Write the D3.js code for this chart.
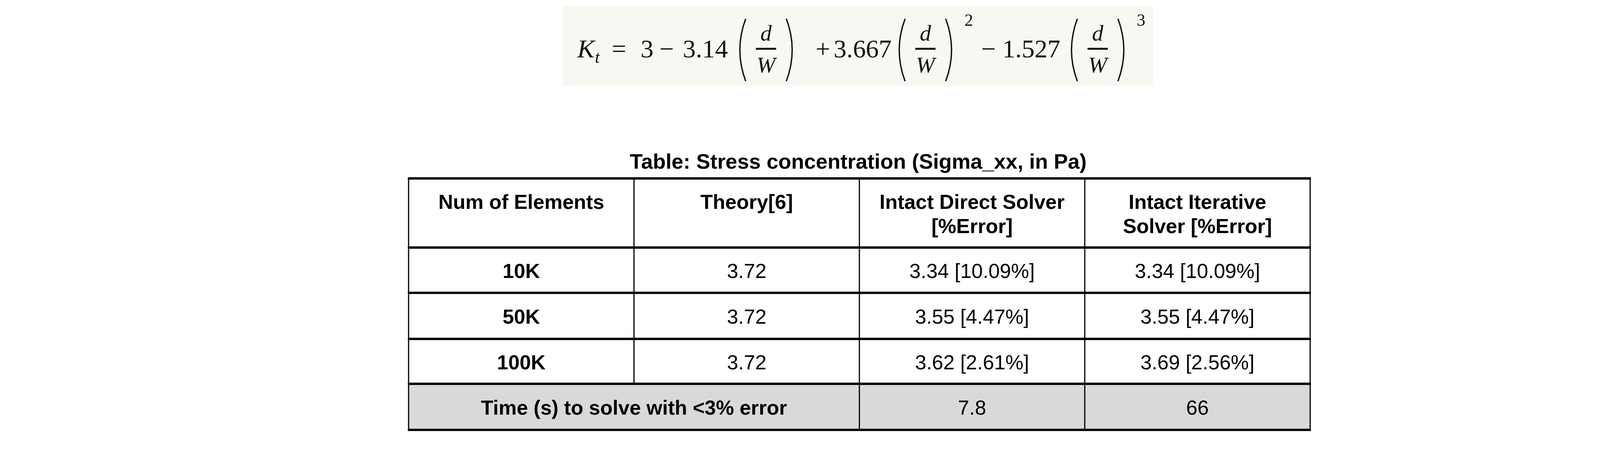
<!DOCTYPE html>
<html><head><meta charset="utf-8">
<script src="https://cdn.jsdelivr.net/npm/d3@7"></script>
<style>body{margin:0;background:#fff}</style></head>
<body><svg id="c" width="4405" height="1150"></svg>
<script>
const title = "Table: Stress concentration (Sigma_xx, in Pa)";
const columns = ["Num of Elements", "Theory[6]", "Intact Direct Solver\n[%Error]", "Intact Iterative\nSolver [%Error]"];
const rowLabels = ["10K", "50K", "100K"];
const theory = ["3.72", "3.72", "3.72"];
const direct = ["3.34 [10.09%]", "3.55 [4.47%]", "3.62 [2.61%]"];
const iterative = ["3.34 [10.09%]", "3.55 [4.47%]", "3.69 [2.56%]"];
const timeLabel = "Time (s) to solve with <3% error";
const timeValues = ["7.8", "66"];
const coeffs = ["3", "3.14", "3.667", "1.527"];

const svg = d3.select("#c");
const font = "'Liberation Sans', Arial, sans-serif";
const serif = "'Liberation Serif', 'DejaVu Serif', serif";

// Formula
svg.append("rect").attr("x",1441).attr("y",15).attr("width",1512).attr("height",205).attr("fill","#f8f8f3");
const f = svg.append("g").attr("font-family",serif).attr("fill","#111");
const base = 147;
function t(x,y,s,size,italic,anchor){ return f.append("text").attr("x",x).attr("y",y).attr("font-size",size)
  .attr("font-style",italic?"italic":"normal").attr("text-anchor",anchor||"start").text(s); }
t(1478,base,"K",66,true); t(1523,base+14,"t",44,true);
t(1566,base,"=",66); t(1640,base,coeffs[0],66); t(1688,base,"−",66); t(1748,base,coeffs[1],66);
function frac(cx,sup){
  f.append("path").attr("d",`M${cx-52},48 Q${cx-82},128 ${cx-52},208`).attr("fill","none").attr("stroke","#111").attr("stroke-width",3.5);
  f.append("path").attr("d",`M${cx+52},48 Q${cx+82},128 ${cx+52},208`).attr("fill","none").attr("stroke","#111").attr("stroke-width",3.5);
  t(cx,104,"d",58,true,"middle");
  f.append("line").attr("x1",cx-26).attr("x2",cx+26).attr("y1",125).attr("y2",125).attr("stroke","#111").attr("stroke-width",5);
  t(cx,186,"W",58,true,"middle");
  if(sup) t(cx+100,66,sup,44);
}
frac(1961,null);
t(2088,base,"+",66); t(2134,base,coeffs[2],66);
frac(2369,"2");
t(2512,base,"−",66); t(2566,base,coeffs[3],66);
frac(2810,"3");

// Title
svg.append("text").attr("x",2197).attr("y",432).attr("text-anchor","middle").attr("font-family",font)
  .attr("font-weight","bold").attr("font-size",54).text(title);

// Table
const x = d3.scaleBand().domain(d3.range(4)).range([1046,3354]);
const rowEdges = [457,634,750,868,983,1101];
const rowsY = d3.scaleOrdinal().domain(d3.range(5)).range(rowEdges.slice(0,5));
const rowH = i => rowEdges[i+1]-rowEdges[i];
const g = svg.append("g").attr("font-family",font).attr("font-size",52).attr("fill","#000");

g.append("rect").attr("x",x(0)).attr("y",rowsY(4)).attr("width",x.range()[1]-x(0)).attr("height",rowH(4)).attr("fill","#d9d9d9");

columns.forEach((c,i)=>{
  const lines = c.split("\n");
  const tx = g.append("text").attr("x",x(i)+x.bandwidth()/2).attr("y",535).attr("text-anchor","middle").attr("font-weight","bold");
  lines.forEach((l,k)=>tx.append("tspan").attr("x",x(i)+x.bandwidth()/2).attr("dy",k?62:0).text(l));
});
rowLabels.forEach((r,j)=>{
  const vals=[r,theory[j],direct[j],iterative[j]];
  const cy = rowsY(j+1)+rowH(j+1)/2+20;
  vals.forEach((v,i)=>g.append("text").attr("x",x(i)+x.bandwidth()/2).attr("y",cy).attr("text-anchor","middle")
    .attr("font-weight",i===0?"bold":"normal").text(v));
});
const ly = rowsY(4)+rowH(4)/2+20;
g.append("text").attr("x",x(1)).attr("y",ly).attr("text-anchor","middle").attr("font-weight","bold").text(timeLabel);
timeValues.forEach((v,k)=>g.append("text").attr("x",x(k+2)+x.bandwidth()/2).attr("y",ly).attr("text-anchor","middle").text(v));

rowEdges.forEach(y=>g.append("line").attr("x1",x(0)-2).attr("x2",x.range()[1]+2).attr("y1",y).attr("y2",y).attr("stroke","#000").attr("stroke-width",6));
[0,1,2,3,4].forEach(i=>{
  const xx = i<4?x(i):x.range()[1];
  const y2 = (i===1)?rowEdges[4]:rowEdges[5];
  g.append("line").attr("x1",xx).attr("x2",xx).attr("y1",rowEdges[0]).attr("y2",y2).attr("stroke","#000").attr("stroke-width",3);
});
</script></body></html>
